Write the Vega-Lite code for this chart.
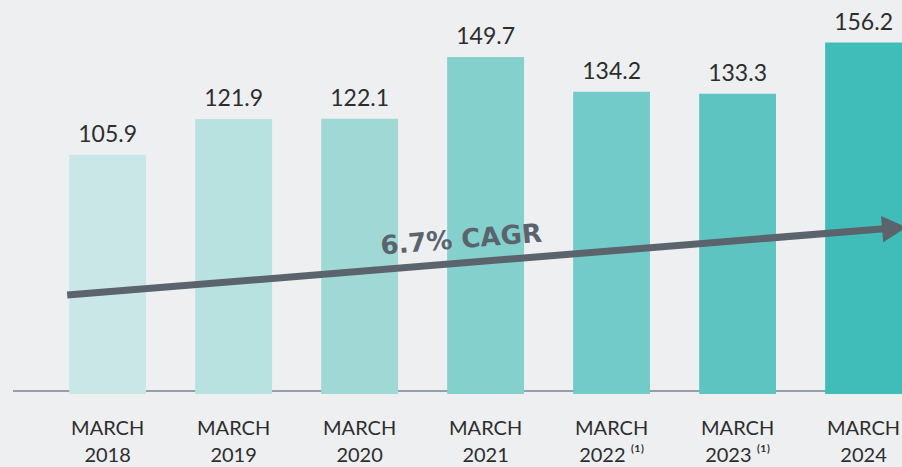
{
  "$schema": "https://vega.github.io/schema/vega-lite/v6.json",
  "width": 889,
  "height": 391,
  "autosize": {"type": "none"},
  "padding": {"left": 13, "top": 0, "right": 0, "bottom": 76},
  "background": "#eeeff1",
  "config": {"view": {"stroke": null}, "font": "Lato"},
  "layer": [
    {
      "data": {"values": [{"base": 0}]},
      "mark": {"type": "rule", "color": "#7d8590", "strokeWidth": 1.5},
      "encoding": {"y": {"field": "base", "type": "quantitative", "scale": {"domain": [0, 175.3], "nice": false}}}
    },
    {
      "data": {"values": [
        {"period": "MARCH|2018", "value": 105.9, "label": "105.9"},
        {"period": "MARCH|2019", "value": 121.9, "label": "121.9"},
        {"period": "MARCH|2020", "value": 122.1, "label": "122.1"},
        {"period": "MARCH|2021", "value": 149.7, "label": "149.7"},
        {"period": "MARCH|2022 ⁽¹⁾", "value": 134.2, "label": "134.2"},
        {"period": "MARCH|2023 ⁽¹⁾", "value": 133.3, "label": "133.3"},
        {"period": "MARCH|2024", "value": 156.2, "label": "156.2"}
      ]},
      "layer": [
        {
          "mark": {"type": "bar", "y2Offset": 3},
          "encoding": {
            "x": {
              "field": "period", "type": "nominal", "sort": null,
              "scale": {"paddingInner": 0.39, "paddingOuter": 0.223, "align": 1},
              "axis": {
                "title": null, "domain": false, "ticks": false, "labelAngle": 0,
                "labelExpr": "split(datum.label, '|')",
                "labelFont": "Lato", "labelFontSize": 20, "labelColor": "#2d2d2d",
                "labelPadding": 27, "labelLineHeight": 27, "labelLimit": 0, "labelOverlap": false
              }
            },
            "y": {"field": "value", "type": "quantitative", "scale": {"domain": [0, 175.3], "nice": false}, "axis": null},
            "y2": {"datum": 0},
            "color": {
              "field": "period", "type": "nominal", "sort": null, "legend": null,
              "scale": {"range": ["#c9e7e7", "#b8e2e0", "#9fd8d5", "#84d0cc", "#72cbc8", "#5ec4c1", "#41bdb9"]}
            }
          }
        },
        {
          "mark": {"type": "text", "dy": -13, "baseline": "alphabetic", "align": "center", "fontSize": 23, "font": "Lato", "color": "#2d2d2d"},
          "encoding": {
            "x": {"field": "period", "type": "nominal", "sort": null},
            "y": {"field": "value", "type": "quantitative"},
            "text": {"field": "label"}
          }
        }
      ]
    },
    {
      "data": {"values": [
        {"from": "MARCH|2018", "to": "MARCH|2024", "labelAt": "MARCH|2021", "start": 43.0, "end": 73.0, "labelY": 64.1, "text": "6.7% CAGR"}
      ]},
      "layer": [
        {
          "mark": {"type": "rule", "color": "#5b636d", "strokeWidth": 7, "xOffset": -2, "x2Offset": 27},
          "encoding": {
            "x": {"field": "from", "type": "nominal", "sort": null, "bandPosition": 0},
            "x2": {"field": "to"},
            "y": {"field": "start", "type": "quantitative"},
            "y2": {"field": "end"}
          }
        },
        {
          "mark": {"type": "point", "filled": true, "opacity": 1, "color": "#5b636d", "shape": "M-1,-1.08L1,0L-1,1.08Z", "size": 600, "angle": -4.6},
          "encoding": {
            "x": {"field": "to", "type": "nominal", "sort": null, "bandPosition": 0.9},
            "y": {"field": "end", "type": "quantitative"}
          }
        },
        {
          "mark": {"type": "text", "color": "#5b636d", "fontSize": 26, "fontWeight": "bold", "font": "DejaVu Sans", "angle": -4.6, "align": "center", "baseline": "alphabetic"},
          "encoding": {
            "x": {"field": "labelAt", "type": "nominal", "sort": null, "bandPosition": 0.19},
            "y": {"field": "labelY", "type": "quantitative"},
            "text": {"field": "text"}
          }
        }
      ]
    }
  ]
}
